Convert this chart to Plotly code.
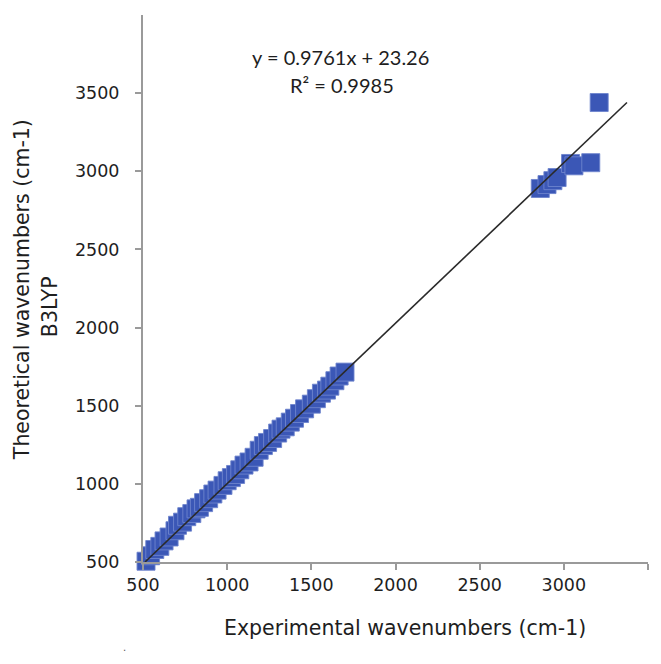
import plotly.graph_objects as go

# Experimental vs theoretical (B3LYP) wavenumbers
exp_wn = [518, 545, 570, 600, 625, 655, 690, 705, 735, 760, 790, 815, 835, 860,
          890, 915, 940, 975, 1000, 1025, 1050, 1075, 1100, 1130, 1160, 1190,
          1215, 1240, 1270, 1300, 1320, 1345, 1375, 1400, 1430, 1460, 1500,
          1530, 1560, 1590, 1610, 1640, 1665, 1700,
          2860, 2900, 2935, 2960, 3040, 3060, 3160, 3210]
theo_wn = [505, 540, 580, 600, 635, 660, 700, 735, 755, 790, 810, 840, 850, 880,
           905, 935, 960, 990, 1020, 1040, 1060, 1090, 1120, 1140, 1170, 1215,
           1245, 1265, 1290, 1325, 1350, 1365, 1395, 1420, 1450, 1480, 1510,
           1545, 1580, 1600, 1625, 1660, 1690, 1715,
           2890, 2915, 2940, 2960, 3050, 3035, 3055, 3440]

# Linear trendline endpoints
trend_x = [512, 3375]
trend_y = [500, 3440]

equation_text = "y = 0.9761x + 23.26"
r2_text = "R² = 0.9985"

x_ticks = [500, 1000, 1500, 2000, 2500, 3000, 3500]
y_ticks = [500, 1000, 1500, 2000, 2500, 3000, 3500]

fig = go.Figure()
fig.add_trace(go.Scatter(
    x=exp_wn, y=theo_wn, mode="markers",
    marker=dict(symbol="square", size=18, color="#3B57B6",
                line=dict(width=1, color="rgba(110,132,205,0.9)")),
    showlegend=False, cliponaxis=False))
fig.add_trace(go.Scatter(
    x=trend_x, y=trend_y, mode="lines",
    line=dict(color="#2a2a2a", width=1.6),
    showlegend=False))

tick_font = dict(family="DejaVu Sans", size=17.5, color="#1e1e1e")
axis_common = dict(showline=True, linecolor="#9a9a9a", linewidth=2,
                   showgrid=False, zeroline=False, ticks="outside",
                   ticklen=6, tickwidth=1.5, tickcolor="#9a9a9a",
                   tickfont=tick_font)

fig.update_xaxes(range=[500, 3500], tickvals=x_ticks,
                 ticktext=[str(v) for v in x_ticks], **axis_common)
fig.update_yaxes(range=[500, 4000], tickvals=y_ticks,
                 ticktext=[str(v) for v in y_ticks], ticklabelstandoff=12,
                 **axis_common)

title_font = dict(family="DejaVu Sans", size=20.5, color="#1e1e1e")
eq_font = dict(family="Lato", size=20, color="#1e1e1e")

annotations = [
    dict(text="Theoretical wavenumbers (cm-1)", textangle=-90, xref="paper",
         yref="paper", x=-0.2396, y=0.497, xanchor="center", yanchor="middle",
         showarrow=False, font=title_font),
    dict(text="B3LYP", textangle=-90, xref="paper", yref="paper",
         x=-0.184, y=0.466, xanchor="center", yanchor="middle",
         showarrow=False, font=title_font),
    dict(text="Experimental wavenumbers (cm-1)", xref="paper", yref="paper",
         x=0.519, y=-0.1207, xanchor="center", yanchor="middle",
         showarrow=False, font=title_font),
    dict(text=equation_text, xref="paper", yref="paper", x=0.392, y=0.923,
         xanchor="center", yanchor="middle", showarrow=False, font=eq_font),
    dict(text=r2_text, xref="paper", yref="paper", x=0.394, y=0.872,
         xanchor="center", yanchor="middle", showarrow=False, font=eq_font),
    dict(text=".", xref="paper", yref="paper", x=-0.036, y=-0.157,
         xanchor="center", yanchor="middle", showarrow=False,
         font=dict(family="DejaVu Sans", size=10, color="#555555")),
]

# the page body has an 8px margin, so the figure is sized to fit inside it
fig.update_layout(
    width=653, height=656,
    margin=dict(l=135, r=13, t=7, b=102),
    paper_bgcolor="white", plot_bgcolor="white",
    annotations=annotations,
)

fig.write_html("out.html")
